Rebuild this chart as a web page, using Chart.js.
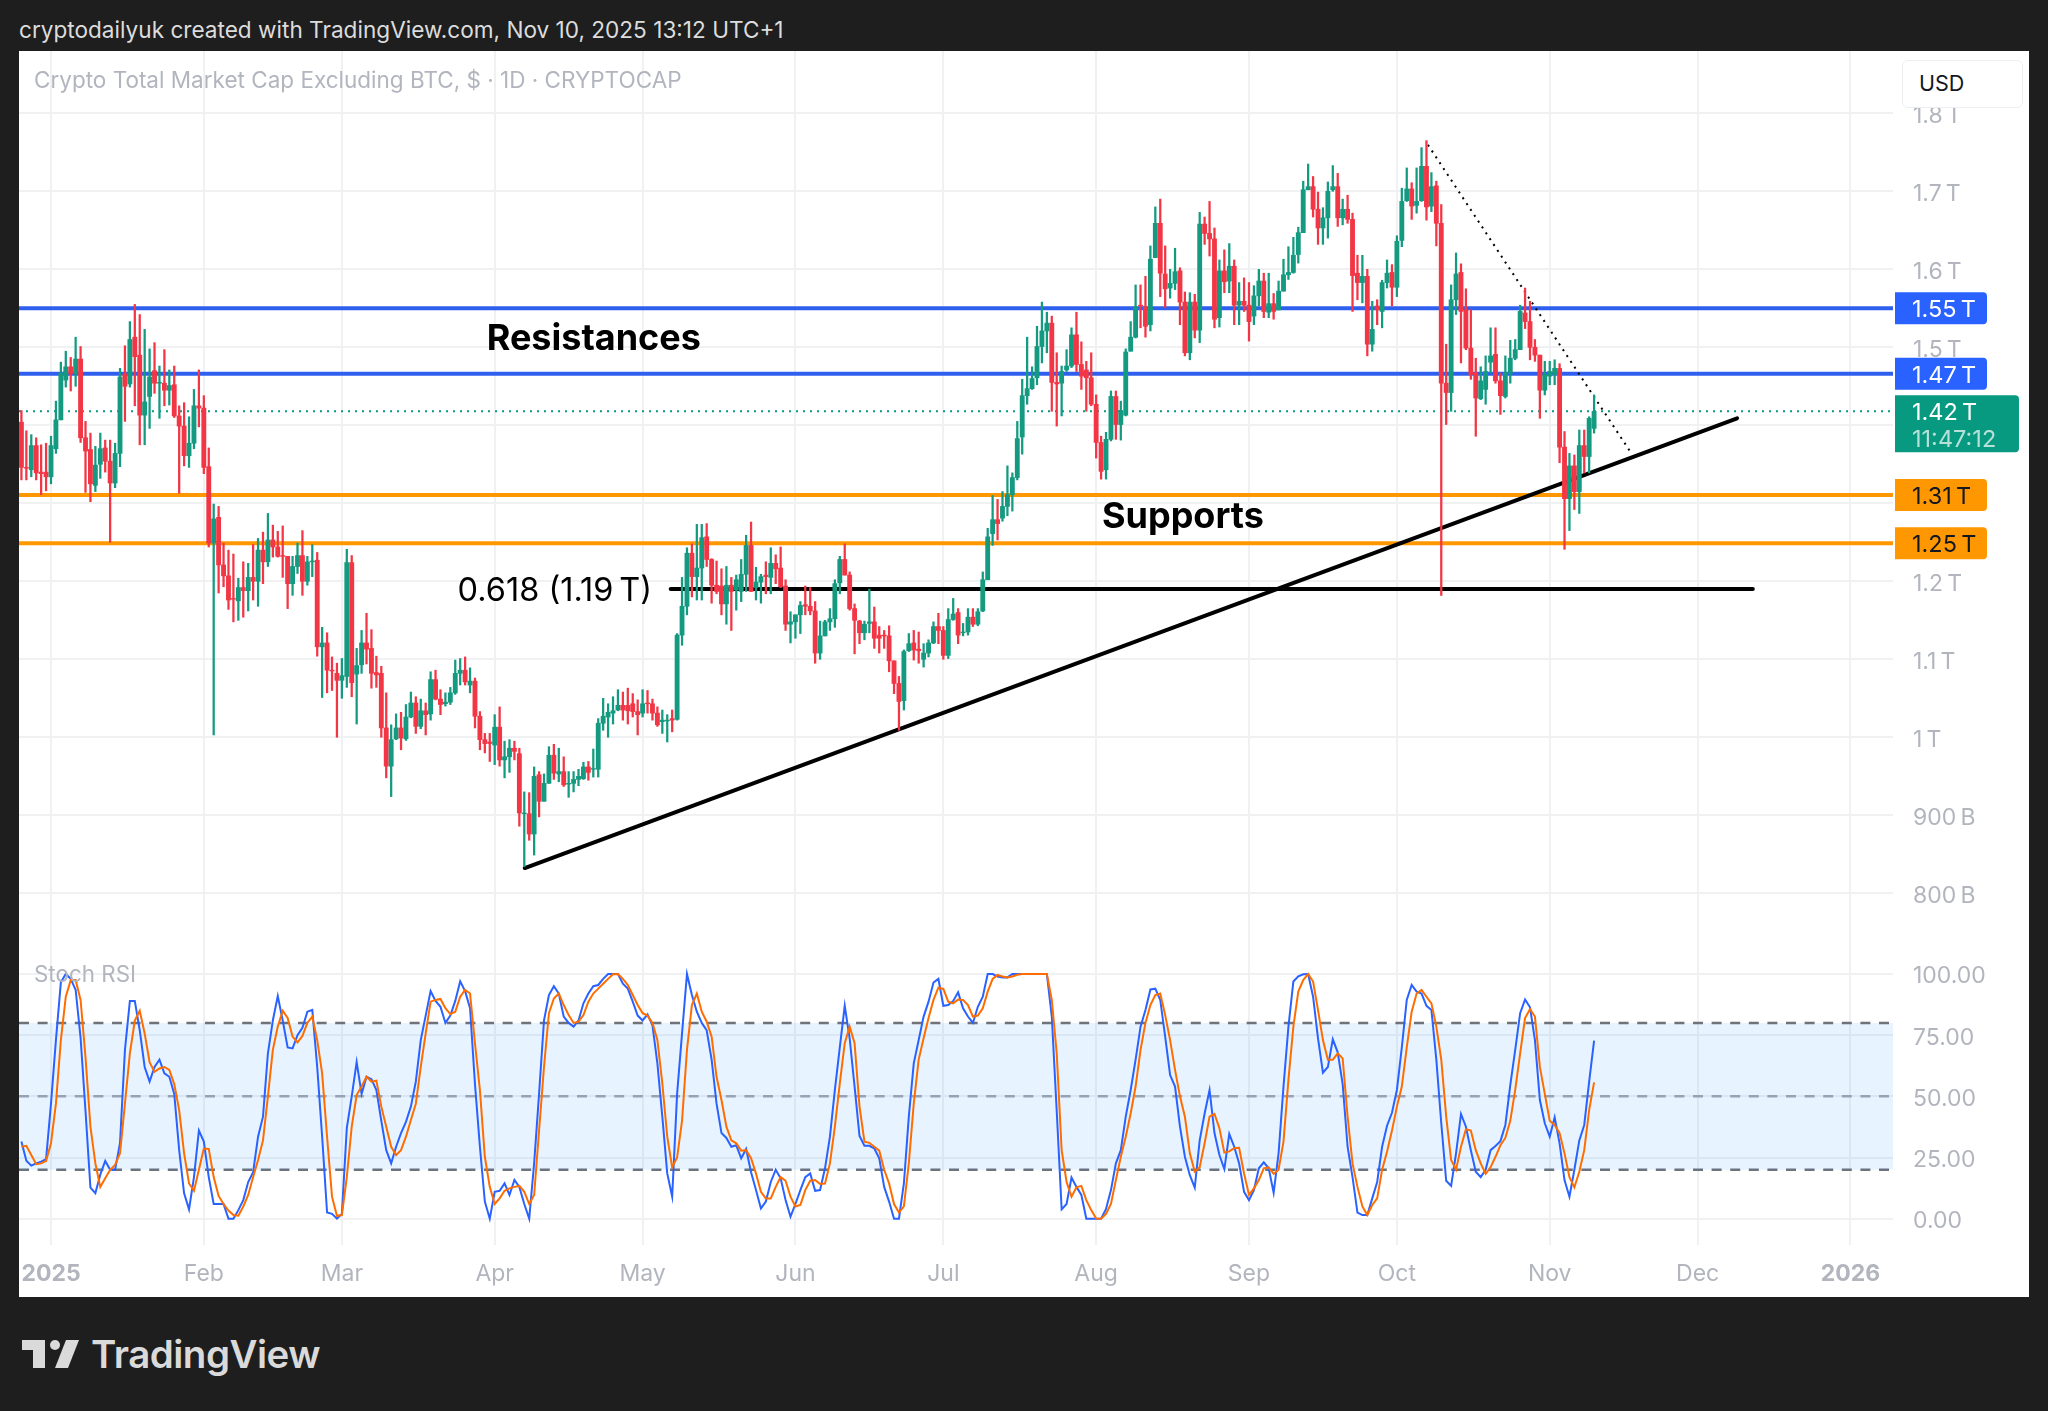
<!DOCTYPE html>
<html lang="en">
<head>
  <meta charset="UTF-8">
  <title>Crypto Total Market Cap Excluding BTC</title>
  <style>
    html, body { margin: 0; padding: 0; background: #1e1e1e; width: 2048px; height: 1411px; overflow: hidden; font-family: Inter, Arial, sans-serif; }
    .abs { position: absolute; white-space: nowrap; }
    #panel { left: 19px; top: 51px; width: 2010px; height: 1246px; background: #fff; }
    #header { left: 19px; top: 15px; font-size: 22.6px; line-height: 30px; color: #dcdcdc; }
    #title { left: 34px; top: 66px; font-size: 22.5px; line-height: 28px; color: #b2b5be; }
    #rsiTitle { left: 34px; top: 960px; font-size: 22.4px; line-height: 28px; color: #b2b5be; }
    #usd { left: 1902px; top: 60px; width: 103px; height: 46px; padding-left: 16px; background: #fff; border: 1px solid #eceef2; border-radius: 6px; font-size: 21.5px; line-height: 44px; color: #131722; }
    #brand { left: 91px; top: 1331px; font-size: 38.5px; line-height: 46px; font-weight: 600; color: #dadada; letter-spacing: -0.5px; }
    canvas { position: absolute; left: 19px; }
    #priceChart { top: 51px; }
    #rsiChart { top: 950px; }
  </style>
  <script src="https://cdn.jsdelivr.net/npm/chart.js"></script>
</head>
<body>
  <div class="abs" id="panel"></div>
  <div class="abs" id="header">cryptodailyuk created with TradingView.com, Nov 10, 2025 13:12 UTC+1</div>
  <canvas id="priceChart" width="2010" height="899"></canvas>
  <canvas id="rsiChart" width="2010" height="347"></canvas>
  <div class="abs" id="title">Crypto Total Market Cap Excluding BTC, $ · 1D · CRYPTOCAP</div>
  <div class="abs" id="rsiTitle">Stoch RSI</div>
  <div class="abs" id="usd">USD</div>
  <svg class="abs" style="left:22px;top:1340px" width="58" height="28" viewBox="0 0 58 28">
    <path fill="#dadada" d="M0 0H23V28H11V10H0Z"/>
    <circle fill="#dadada" cx="33" cy="5" r="5"/>
    <path fill="#dadada" d="M44 0H57L46 28H33Z"/>
  </svg>
  <div class="abs" id="brand">TradingView</div>

  <script>
    // daily candles, first one is 6 days before Jan 1 2025 (x axis = days since Jan 1)
    const firstDay = -6;
    const opens = [
      1.404,1.346,1.343,1.374,1.340,1.340,
      1.334,1.370,1.407,1.458,1.475,1.466,1.485,1.384,1.369,1.323,
      1.350,1.371,1.354,1.326,1.364,1.466,1.453,1.513,1.490,1.413,
      1.437,1.470,1.454,1.454,1.445,1.452,1.412,1.399,1.361,1.377,
      1.425,1.422,1.347,1.249,1.282,1.221,1.207,1.178,1.175,1.192,
      1.188,1.205,1.200,1.240,1.225,1.253,1.244,1.233,1.232,1.197,
      1.219,1.233,1.200,1.225,1.227,1.116,1.121,1.086,1.082,1.073,
      1.078,1.224,1.081,1.093,1.121,1.114,1.083,1.082,1.012,0.963,
      0.998,1.012,0.998,1.026,1.044,1.014,1.034,1.030,1.074,1.049,
      1.043,1.045,1.057,1.082,1.086,1.067,1.072,1.027,0.997,0.994,
      0.990,1.013,0.971,0.975,0.986,0.979,0.902,0.902,0.876,0.952,
      0.918,0.941,0.977,0.953,0.956,0.940,0.941,0.946,0.947,0.962,
      0.959,0.959,1.018,1.026,1.031,1.035,1.041,1.041,1.043,1.033,
      1.031,1.044,1.043,1.031,1.020,1.021,1.024,1.023,1.131,1.168,
      1.236,1.206,1.217,1.257,1.228,1.195,1.194,1.171,1.195,1.189,
      1.187,1.209,1.246,1.192,1.199,1.208,1.205,1.223,1.217,1.194,
      1.145,1.148,1.157,1.170,1.168,1.162,1.108,1.130,1.148,1.152,
      1.198,1.228,1.208,1.165,1.149,1.134,1.146,1.148,1.131,1.131,
      1.130,1.098,1.069,1.047,1.111,1.121,1.113,1.100,1.108,1.121,
      1.142,1.137,1.105,1.151,1.160,1.134,1.135,1.154,1.145,1.162,
      1.202,1.261,1.279,1.281,1.296,1.311,1.333,1.385,1.438,1.447,
      1.461,1.501,1.521,1.531,1.455,1.454,1.471,1.476,1.516,1.478,
      1.471,1.461,1.427,1.378,1.343,1.382,1.437,1.401,1.413,1.495,
      1.513,1.554,1.552,1.529,1.615,1.659,1.594,1.576,1.582,1.598,
      1.558,1.493,1.558,1.522,1.658,1.646,1.639,1.538,1.598,1.585,
      1.604,1.554,1.559,1.554,1.540,1.566,1.585,1.545,1.556,1.548,
      1.572,1.593,1.596,1.619,1.647,1.702,1.706,1.677,1.653,1.666,
      1.702,1.706,1.666,1.677,1.664,1.595,1.583,1.591,1.504,1.553,
      1.546,1.583,1.596,1.577,1.637,1.688,1.703,1.682,1.688,1.732,
      1.681,1.707,1.659,1.454,1.442,1.561,1.596,1.548,1.499,1.467,
      1.434,1.446,1.481,1.491,1.457,1.437,1.467,1.486,1.497,1.544,
      1.533,1.500,1.490,1.445,1.463,1.465,1.473,1.372,1.306,1.348,
      1.315,1.374,1.360,1.396
    ];
    const highs = [
      1.419,1.393,1.388,1.384,1.375,1.377,
      1.386,1.431,1.481,1.495,1.487,1.513,1.501,1.405,1.390,1.373,
      1.390,1.381,1.381,1.377,1.473,1.502,1.533,1.555,1.542,1.523,
      1.498,1.506,1.476,1.497,1.471,1.476,1.425,1.429,1.411,1.446,
      1.471,1.438,1.371,1.299,1.296,1.249,1.240,1.235,1.204,1.225,
      1.223,1.247,1.255,1.263,1.287,1.272,1.264,1.271,1.232,1.232,
      1.249,1.265,1.232,1.247,1.237,1.141,1.134,1.103,1.095,1.101,
      1.241,1.233,1.114,1.137,1.159,1.138,1.104,1.091,1.057,1.016,
      1.030,1.032,1.042,1.058,1.052,1.049,1.044,1.084,1.086,1.061,
      1.057,1.064,1.099,1.101,1.103,1.089,1.076,1.033,1.005,1.005,
      1.029,1.039,0.995,0.997,0.995,0.986,0.930,0.929,0.962,0.956,
      0.953,0.988,0.991,0.986,0.975,0.956,0.956,0.959,0.968,0.969,
      0.985,1.024,1.050,1.043,1.052,1.061,1.058,1.063,1.056,1.048,
      1.061,1.060,1.049,1.039,1.035,1.029,1.035,1.133,1.205,1.243,
      1.248,1.273,1.273,1.274,1.229,1.226,1.216,1.219,1.205,1.208,
      1.228,1.259,1.276,1.218,1.209,1.225,1.243,1.234,1.244,1.202,
      1.161,1.157,1.174,1.194,1.192,1.174,1.149,1.150,1.165,1.202,
      1.232,1.248,1.212,1.171,1.150,1.149,1.190,1.167,1.142,1.137,
      1.143,1.098,1.078,1.112,1.133,1.137,1.135,1.120,1.125,1.148,
      1.159,1.142,1.165,1.178,1.165,1.146,1.165,1.165,1.165,1.212,
      1.268,1.310,1.305,1.315,1.348,1.339,1.405,1.459,1.513,1.475,
      1.527,1.558,1.545,1.540,1.493,1.476,1.497,1.525,1.545,1.507,
      1.482,1.493,1.439,1.386,1.391,1.444,1.444,1.431,1.498,1.533,
      1.580,1.580,1.591,1.630,1.680,1.690,1.630,1.600,1.627,1.602,
      1.571,1.570,1.568,1.673,1.667,1.687,1.653,1.612,1.625,1.633,
      1.612,1.583,1.589,1.583,1.579,1.600,1.595,1.595,1.569,1.585,
      1.613,1.629,1.641,1.654,1.713,1.735,1.719,1.699,1.679,1.712,
      1.733,1.723,1.690,1.695,1.672,1.618,1.618,1.600,1.559,1.561,
      1.586,1.612,1.606,1.643,1.704,1.730,1.711,1.730,1.756,1.765,
      1.724,1.713,1.683,1.504,1.580,1.621,1.607,1.575,1.548,1.486,
      1.475,1.489,1.525,1.525,1.467,1.489,1.509,1.510,1.554,1.576,
      1.559,1.510,1.490,1.482,1.482,1.484,1.479,1.392,1.364,1.362,
      1.394,1.394,1.411,1.439
    ];
    const lows = [
      1.330,1.330,1.334,1.330,1.311,1.316,
      1.325,1.364,1.407,1.449,1.444,1.450,1.378,1.314,1.302,1.315,
      1.332,1.340,1.250,1.320,1.347,1.405,1.449,1.425,1.375,1.375,
      1.396,1.441,1.409,1.425,1.426,1.410,1.313,1.348,1.346,1.370,
      1.398,1.338,1.244,1.003,1.185,1.193,1.164,1.148,1.150,1.154,
      1.162,1.176,1.168,1.197,1.219,1.231,1.231,1.205,1.165,1.182,
      1.210,1.182,1.195,1.206,1.104,1.051,1.057,1.060,1.000,1.050,
      1.064,1.052,1.017,1.082,1.094,1.063,1.064,1.000,0.948,0.924,
      0.997,0.984,0.996,1.025,1.005,1.011,1.003,1.022,1.048,1.029,
      1.040,1.042,1.055,1.067,1.067,1.057,1.012,0.984,0.980,0.969,
      0.965,0.963,0.948,0.955,0.971,0.886,0.834,0.868,0.849,0.898,
      0.918,0.941,0.946,0.943,0.937,0.923,0.930,0.938,0.946,0.945,
      0.949,0.949,1.009,1.000,1.017,1.034,1.022,1.017,1.026,1.003,
      1.026,1.031,1.022,1.014,1.005,0.994,1.007,1.022,1.118,1.157,
      1.180,1.176,1.176,1.219,1.172,1.184,1.157,1.145,1.137,1.163,
      1.174,1.187,1.187,1.176,1.172,1.184,1.184,1.197,1.192,1.137,
      1.121,1.127,1.133,1.157,1.157,1.095,1.100,1.130,1.137,1.141,
      1.184,1.208,1.163,1.107,1.120,1.125,1.134,1.114,1.108,1.114,
      1.084,1.056,1.009,1.035,1.110,1.099,1.095,1.090,1.103,1.120,
      1.120,1.100,1.101,1.150,1.120,1.130,1.131,1.142,1.143,1.161,
      1.202,1.246,1.253,1.277,1.284,1.290,1.330,1.363,1.427,1.446,
      1.452,1.480,1.493,1.418,1.399,1.412,1.469,1.474,1.469,1.446,
      1.418,1.425,1.358,1.331,1.331,1.380,1.382,1.381,1.412,1.495,
      1.512,1.525,1.513,1.521,1.615,1.565,1.551,1.563,1.574,1.529,
      1.489,1.484,1.512,1.506,1.632,1.617,1.525,1.526,1.570,1.570,
      1.529,1.529,1.546,1.508,1.529,1.553,1.538,1.538,1.536,1.548,
      1.572,1.587,1.595,1.608,1.647,1.702,1.667,1.632,1.632,1.640,
      1.700,1.655,1.657,1.659,1.546,1.561,1.557,1.489,1.495,1.529,
      1.525,1.576,1.553,1.565,1.629,1.687,1.664,1.672,1.687,1.663,
      1.674,1.630,1.182,1.401,1.418,1.542,1.480,1.497,1.459,1.386,
      1.433,1.427,1.467,1.454,1.414,1.435,1.454,1.484,1.497,1.524,
      1.484,1.482,1.409,1.439,1.452,1.452,1.352,1.241,1.265,1.292,
      1.287,1.339,1.339,1.390
    ];
    const closes = [
      1.346,1.345,1.374,1.339,1.338,1.334,
      1.374,1.407,1.467,1.475,1.466,1.485,1.384,1.367,1.325,1.349,
      1.370,1.354,1.326,1.364,1.462,1.450,1.510,1.488,1.413,1.430,
      1.462,1.454,1.455,1.445,1.451,1.412,1.399,1.361,1.377,1.425,
      1.422,1.346,1.249,1.280,1.221,1.207,1.176,1.177,1.192,1.188,
      1.205,1.200,1.240,1.225,1.253,1.244,1.232,1.232,1.197,1.219,
      1.233,1.200,1.225,1.226,1.116,1.121,1.086,1.085,1.073,1.079,
      1.224,1.070,1.092,1.121,1.113,1.082,1.080,1.012,0.963,0.997,
      1.012,0.999,1.026,1.044,1.014,1.034,1.029,1.074,1.049,1.042,
      1.045,1.057,1.082,1.086,1.071,1.072,1.027,0.997,0.992,0.992,
      1.013,0.971,0.975,0.986,0.982,0.903,0.903,0.876,0.950,0.918,
      0.941,0.977,0.954,0.956,0.939,0.941,0.946,0.950,0.962,0.955,
      0.960,1.018,1.027,1.032,1.034,1.041,1.035,1.034,1.033,1.029,
      1.043,1.043,1.031,1.016,1.022,1.022,1.022,1.131,1.168,1.236,
      1.206,1.217,1.256,1.228,1.195,1.187,1.171,1.195,1.187,1.202,
      1.209,1.246,1.187,1.199,1.206,1.206,1.223,1.216,1.193,1.145,
      1.148,1.157,1.169,1.168,1.162,1.108,1.130,1.148,1.152,1.197,
      1.228,1.208,1.165,1.150,1.134,1.145,1.148,1.127,1.127,1.130,
      1.098,1.069,1.046,1.110,1.120,1.112,1.111,1.108,1.121,1.142,
      1.137,1.105,1.151,1.158,1.131,1.135,1.154,1.145,1.161,1.202,
      1.257,1.279,1.274,1.296,1.311,1.333,1.383,1.438,1.447,1.460,
      1.501,1.521,1.531,1.455,1.453,1.469,1.476,1.516,1.478,1.463,
      1.461,1.427,1.378,1.341,1.382,1.437,1.401,1.419,1.494,1.513,
      1.552,1.553,1.527,1.613,1.659,1.595,1.575,1.582,1.597,1.558,
      1.493,1.558,1.522,1.658,1.646,1.639,1.536,1.598,1.584,1.604,
      1.554,1.559,1.554,1.533,1.566,1.585,1.546,1.556,1.546,1.572,
      1.593,1.596,1.618,1.647,1.702,1.706,1.677,1.653,1.666,1.700,
      1.706,1.666,1.677,1.664,1.592,1.583,1.591,1.504,1.523,1.548,
      1.583,1.595,1.577,1.636,1.687,1.703,1.681,1.687,1.732,1.680,
      1.706,1.659,1.454,1.442,1.561,1.594,1.546,1.499,1.465,1.435,
      1.457,1.469,1.489,1.457,1.438,1.467,1.486,1.497,1.546,1.533,
      1.500,1.490,1.445,1.465,1.469,1.473,1.372,1.306,1.348,1.315,
      1.374,1.360,1.409,1.418
    ];
    const stochK = [
      31.5,23.7,21.7,22.6,23.3,24.3,
      47,73,96.6,100,98,93.5,74,44,12.7,10.4,
      18,23.6,20,20,31,69,89,89,77,62,
      56,62,65,59.4,58,51,28,10.4,3.8,17,
      36,31.5,17,6,6,6,0,0,3.5,7.6,
      15,19,33.5,41.7,67.6,81,91,81,70,69.6,
      75,78,84.6,85.3,62,33.5,2.5,2,0,2,
      37,50,64,51,58,57,52.6,40,28,22.6,
      29.4,35,39.6,45.8,56,73,83,93,89,86.6,
      80,83,89,97,93,86,55,29.4,7,0,
      11,11.4,14.4,9.7,15.8,13,6,0,22.6,51,
      81,91.4,95,92,82.6,80,78.5,81,88,92,
      95,95.5,98,100,100,100,96,94,88.7,83,
      81,83.5,79,63.5,41.7,18.5,9,51,75.7,100,
      91.4,84.6,80,77,65,47,35,33,29.4,30,
      24.7,28.5,19,11.7,4.2,7,15,20,16.5,7.6,
      0.8,6,11.7,17,18.5,11.4,11.7,20.6,33.5,52.6,
      70,87,73.7,54,33.8,29.8,29.8,28.7,24.7,13,
      7,0,0,14.4,41.7,63.5,73,82.6,88.7,96.5,
      98,87,87.3,89,92.5,86,82.6,80,86.6,90.7,
      100,100,99,98.6,98.6,100,100,100,100,100,
      100,100,100,82.6,44,3.8,6,16.8,13,9.7,
      0,0,0,0,4,11.7,22.6,28,41.7,52.6,
      65,78.5,85.3,93.7,94,89.4,74.4,58.7,54,37.6,
      25.3,17.8,12.7,32,43,52.6,35,26,20.3,34.6,
      29.4,22.6,11,7.6,11.7,20.6,23,20.6,10.6,26.7,
      54,78.5,96.9,99,99.9,100,90.7,73.7,59.7,62,
      73.3,68,55,29.4,17,2.5,1.5,1.5,8.3,15,
      29.4,38,43.3,52.6,70,89.4,95.5,92.8,92,87,
      85.3,65,39,15.5,13.4,26.7,42.8,37.6,28,19.2,
      17,20,28,29.7,31.7,38.3,54.6,69,84,89.6,
      86.4,73,48.5,39,33.5,41.4,30.8,15.8,9,20,
      32,38.3,56,72.8
    ];
    const stochD = [
      29.4,29.8,26,22.3,22.6,23.6,
      30.8,47,73,90.7,97.5,97.5,89.4,66,37.6,22.6,
      13,16.5,20,22,26.7,47,67.6,81,85,75.7,
      64,60,61.4,62,60.8,55,44.4,26.7,14.4,11.4,
      20,28.7,28.5,17,9.3,6,3.3,1.5,1.2,5,
      9.7,17,24,32,50,69,78.5,85,82,74.4,
      72,74.7,80,82.6,73,59.4,33.5,9,1.2,1.5,
      17,37.6,50.5,54,58,56,56.4,45.8,37.6,29.4,
      26,28,33.5,40.3,47,62,75.7,88.7,89.4,89.8,
      86,83.6,84.6,90.7,93.5,92,71.7,52.6,25.3,13,
      6,8.3,11.4,12.4,13,13.4,11,6,9.7,36,
      62,84,90,92,87.3,83.2,80,80.5,83.2,88.7,
      92,94,96,98,99.9,100,98,95.5,91.4,87.3,
      84,83,80,73,55.3,33.5,21,25,40,69,
      87.3,92,84.6,80.5,74.4,58,48.5,37.6,32,30.8,
      27.8,28,24.7,18.5,11,8.3,8.3,13,17,15.5,
      9,5,5.6,11.7,15.5,15.8,14.2,14.4,22.6,37.6,
      55.3,71.7,78.5,71.7,45.8,31.5,31,29.4,27.8,20,
      14.4,6,2.5,5,22.6,47,65,73.7,82,89.4,
      94.4,93.9,88.7,88,89.6,89.4,87.3,82.6,83,86,
      92.8,98,99.6,99,98.6,99,99.7,100,100,100,
      100,100,100,89.4,67.6,28,15,9,12.8,13.4,
      7.6,3.5,0.1,0,2,6,15.8,25.3,33.5,43,
      54,69,80,87.3,91.4,92,83.2,73,60.8,50,
      41.7,26.7,19.2,21,30.8,41.7,42.8,37,27,27.5,
      28.8,29,18.5,9.7,12.4,15.8,20.6,21,18.3,20,
      31.5,56.7,78.5,92.8,97.5,100,96.9,85.3,73,65,
      65,67.6,65.5,41.7,22.6,13,5,1.5,5.6,8.3,
      20,27.4,36,45.8,54,70,84.6,92,93.5,90.7,
      88,78.5,65,41.7,24,20,29.4,36.6,36,28,
      22.6,18.3,21,25.3,30,33,40,52.6,67.6,82,
      85.6,82.6,62,51,40,38.3,35,26.7,17,12.8,
      19.2,28,44.4,55.7
    ];

    // axis ticks
    const monthDays = [0, 31, 59, 90, 120, 151, 181, 212, 243, 273, 304, 334, 365];
    const monthLabels = ['2025', 'Feb', 'Mar', 'Apr', 'May', 'Jun', 'Jul', 'Aug', 'Sep', 'Oct', 'Nov', 'Dec', '2026'];
    const priceTicks = [1.8, 1.7, 1.6, 1.5, 1.4, 1.3, 1.2, 1.1, 1, 0.9, 0.8];
    const priceTickLabels = ['1.8\u202fT', '1.7\u202fT', '1.6\u202fT', '1.5\u202fT', '', '', '1.2\u202fT', '1.1\u202fT', '1\u202fT', '900\u202fB', '800\u202fB'];
    const rsiTicks = [100, 75, 50, 25, 0];
    const rsiTickLabels = ['100.00', '75.00', '50.00', '25.00', '0.00'];

    // drawn levels
    const resistanceLevels = [1.55, 1.466];
    const resistanceLabels = ['1.55\u202fT', '1.47\u202fT'];
    const supportLevels = [1.3106, 1.2487];
    const supportLabels = ['1.31\u202fT', '1.25\u202fT'];
    const lastClose = 1.418;
    const lastCloseLabel = '1.42\u202fT';
    const countdownLabel = '11:47:12';
    const fibLevel = 1.19;
    const fibDays = [125.7, 345.2];
    const fibLabel = '0.618 (1.19\u202fT)';
    const trendDays = [96.1, 342];
    const trendPrices = [0.8324, 1.409];
    const fallDays = [279.3, 320.7];
    const fallPrices = [1.7596, 1.3628];
    const rsiLevels = [80, 50, 20];

    const xMin = -6.49, xMax = 373.63;
    const upColor = '#149a80', downColor = '#f23645';
    const gridColor = '#f0f1f3';
    const tickColor = '#b2b5bd';
    const tickFont = { family: 'Inter', size: 23 };

    const days = opens.map((v, i) => firstDay + i);
    const candleColor = ctx => closes[ctx.dataIndex] >= opens[ctx.dataIndex] ? upColor : downColor;

    function hline(level, color, width, dash) {
      return {
        type: 'line',
        data: [{ x: xMin, y: level }, { x: xMax, y: level }],
        borderColor: color, borderWidth: width, borderDash: dash || [],
        pointRadius: 0, order: 5
      };
    }
    function segment(xs, ys, color, width, dash) {
      return {
        type: 'line',
        data: xs.map((x, i) => ({ x: x, y: ys[i] })),
        borderColor: color, borderWidth: width, borderDash: dash || [],
        pointRadius: 0, order: 4, borderCapStyle: dash ? 'butt' : 'round'
      };
    }
    // tick labels must not push the plot area inwards
    function noPadding(axis) {
      axis.paddingTop = axis.paddingBottom = axis.paddingLeft = axis.paddingRight = 0;
    }
    function xScale(showLabels) {
      return {
        type: 'linear', min: xMin, max: xMax, offset: false,
        grid: { color: gridColor, lineWidth: 2, drawTicks: false, offset: false },
        border: { display: false },
        afterBuildTicks: axis => { axis.ticks = monthDays.map(v => ({ value: v })); },
        afterFit: axis => { axis.height = showLabels ? 52 : 0; noPadding(axis); },
        ticks: {
          display: showLabels, autoSkip: false, maxRotation: 0, padding: 15, color: tickColor,
          font: ctx => ({ family: 'Inter', size: 23, weight: monthLabels[ctx.index] && monthLabels[ctx.index].length == 4 ? '700' : '400' }),
          callback: (v, i) => monthLabels[i]
        }
      };
    }
    function yScale(min, max, tickValues, tickLabels) {
      return {
        position: 'right', min: min, max: max,
        grid: { color: gridColor, lineWidth: 2, drawTicks: false },
        border: { display: false },
        afterBuildTicks: axis => { axis.ticks = tickValues.map(v => ({ value: v })); },
        afterFit: axis => { axis.width = 136; noPadding(axis); },
        ticks: {
          autoSkip: false, padding: 20, labelOffset: 2.5, color: tickColor, font: tickFont,
          callback: (v, i) => tickLabels[i]
        }
      };
    }

    // price tags on the axis and the text written on the chart
    const labelsPlugin = {
      id: 'labels',
      afterDraw(chart) {
        const c = chart.ctx, y = chart.scales.y, x = chart.scales.x;
        const left = chart.chartArea.right + 2;
        const tag = (value, text, bg, fg) => {
          c.fillStyle = bg;
          c.beginPath();
          c.roundRect(left, y.getPixelForValue(value) - 16, 92, 32, [0, 4, 4, 0]);
          c.fill();
          c.fillStyle = fg;
          c.font = '23.5px Inter';
          c.textAlign = 'left';
          c.textBaseline = 'middle';
          c.fillText(text, left + 17, y.getPixelForValue(value) + 2);
        };
        resistanceLevels.forEach((v, i) => tag(v, resistanceLabels[i], '#2962ff', '#fff'));
        supportLevels.forEach((v, i) => tag(v, supportLabels[i], '#ff9800', '#131722'));

        const py = y.getPixelForValue(lastClose);
        c.fillStyle = '#089981';
        c.beginPath();
        c.roundRect(left, py - 16, 124, 57, [0, 4, 4, 0]);
        c.fill();
        c.font = '23.5px Inter';
        c.textBaseline = 'middle';
        c.fillStyle = '#fff';
        c.fillText(lastCloseLabel, left + 17, py + 2);
        c.fillStyle = 'rgba(255,255,255,0.7)';
        c.fillText(countdownLabel, left + 17, py + 29);

        c.fillStyle = '#000';
        c.textAlign = 'center';
        c.font = '700 36px Inter';
        c.fillText('Resistances', x.getPixelForValue(110.1), y.getPixelForValue(1.510));
        c.fillText('Supports', x.getPixelForValue(229.6), y.getPixelForValue(1.282));
        c.font = '32.5px Inter';
        c.fillText(fibLabel, x.getPixelForValue(102.2), y.getPixelForValue(fibLevel - 0.003));
      }
    };

    const priceDatasets = [
      {
        type: 'bar', label: 'Body', order: 1, grouped: false, barThickness: 4.2,
        data: days.map((d, i) => ({ x: d, y: [opens[i], closes[i]] })),
        backgroundColor: candleColor
      },
      {
        type: 'bar', label: 'Wick', order: 2, grouped: false, barThickness: 1.6,
        data: days.map((d, i) => ({ x: d, y: [lows[i], highs[i]] })),
        backgroundColor: candleColor
      },
      hline(lastClose, '#089981', 2, [2, 5]),
      segment(fibDays, [fibLevel, fibLevel], '#000', 4),
      segment(trendDays, trendPrices, '#000', 4),
      segment(fallDays, fallPrices, '#000', 2, [2, 5])
    ];
    resistanceLevels.forEach(v => priceDatasets.push(hline(v, '#2f5fee', 4)));
    supportLevels.forEach(v => priceDatasets.push(hline(v, '#ff9800', 4)));

    new Chart(document.getElementById('priceChart'), {
      data: { datasets: priceDatasets },
      options: {
        responsive: false, animation: false, devicePixelRatio: 1, events: [],
        layout: { padding: 0, autoPadding: false },
        plugins: { legend: { display: false }, tooltip: { enabled: false } },
        scales: { x: xScale(false), y: yScale(0.7273, 1.8799, priceTicks, priceTickLabels) }
      },
      plugins: [labelsPlugin]
    });

    const rsiLine = (values, color) => ({
      type: 'line', order: 1,
      data: days.map((d, i) => ({ x: d, y: values[i] })),
      borderColor: color, borderWidth: 2, pointRadius: 0, tension: 0
    });
    const rsiDatasets = [
      rsiLine(stochD, '#ff6d00'),
      rsiLine(stochK, '#2962ff')
    ];
    rsiLevels.forEach((v, i) => {
      const ds = hline(v, i == 1 ? '#a3a6ae' : '#6f7279', 2.5, [10, 8.6]);
      if (i == 0) {
        ds.fill = { value: rsiLevels[2] };
        ds.backgroundColor = 'rgba(33,150,243,0.11)';
      }
      rsiDatasets.push(ds);
    });

    new Chart(document.getElementById('rsiChart'), {
      data: { datasets: rsiDatasets },
      options: {
        responsive: false, animation: false, devicePixelRatio: 1, events: [],
        layout: { padding: 0, autoPadding: false },
        plugins: { legend: { display: false }, tooltip: { enabled: false } },
        scales: { x: xScale(true), y: yScale(-10.75, 109.8, rsiTicks, rsiTickLabels) }
      }
    });
  </script>
</body>
</html>
